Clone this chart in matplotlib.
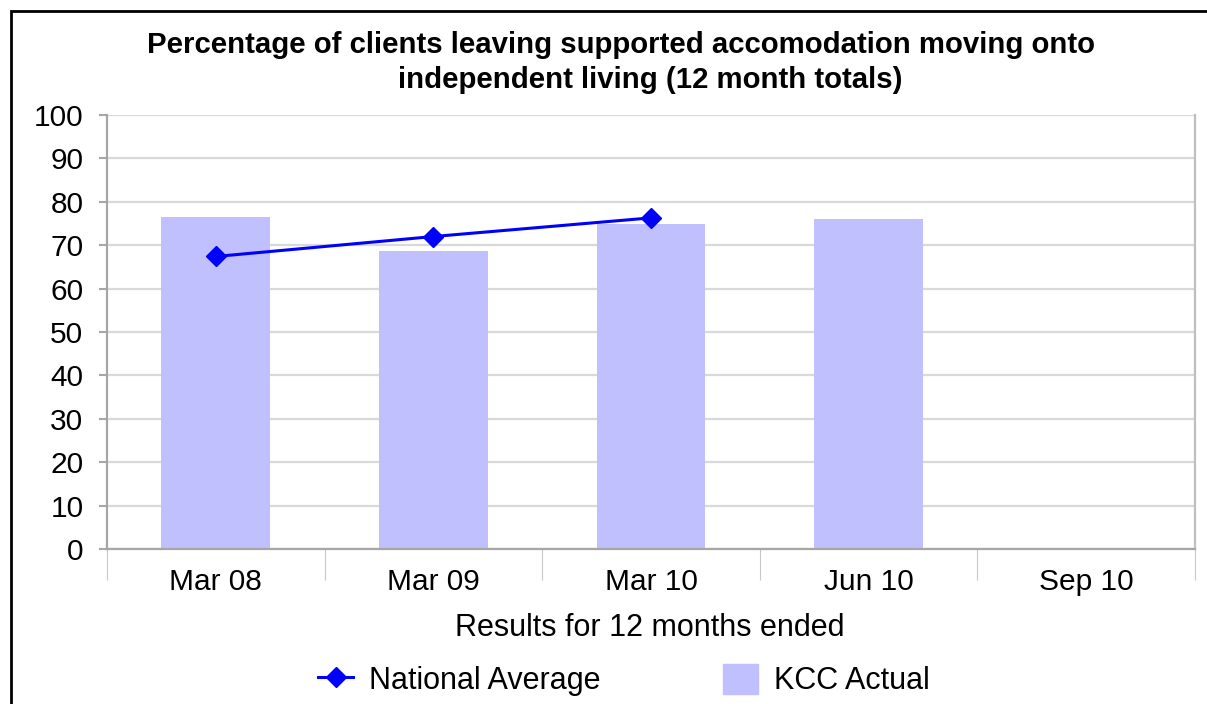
import numpy as np
import matplotlib.pyplot as plt
from matplotlib.patches import Rectangle
from matplotlib.lines import Line2D

plt.rcParams['font.family'] = ['Liberation Sans', 'DejaVu Sans']

# data
periods = ["Mar 08", "Mar 09", "Mar 10", "Jun 10", "Sep 10"]
kcc_actual = [76.6, 68.7, 74.9, 76.0, 0]
national_avg = [67.4, 72.0, 76.3]
yticks = np.arange(0, 101, 10)

W, H = 1207, 704
fig = plt.figure(figsize=(W/100, H/100), dpi=100)
ax = fig.add_axes([107/W, 1-549/H, (1195-107)/W, (549-115)/H])

x = np.arange(len(periods))
ax.bar(x[:4], kcc_actual[:4], width=0.5, color='#C0C0FF', zorder=2)
ax.plot(x[:3], national_avg, color='#0000FF', lw=2.2, marker='D', ms=10.5, zorder=3)

ax.set_xlim(-0.5, 4.5)
ax.set_ylim(0, 100)
ax.set_yticks(yticks)
ax.grid(axis='y', color='#D9D9D9', lw=1.6, zorder=0)
ax.tick_params(axis='y', labelsize=21.5, length=6, width=1.5, color='#A6A6A6', pad=11)

# category separators as major ticks, labels on minor ticks
ax.set_xticks(np.arange(-0.5, 5, 1))
ax.set_xticklabels([])
ax.set_xticks(x, minor=True)
ax.set_xticklabels(periods, minor=True)
ax.tick_params(axis='x', which='major', length=22, width=0.8, color='#C8C8C8')
ax.tick_params(axis='x', which='minor', length=0, labelsize=21.5, pad=14)

for s in ['left', 'bottom']:
    ax.spines[s].set_color('#A6A6A6')
    ax.spines[s].set_linewidth(1.6)
ax.spines['right'].set_color('#BFBFBF')
ax.spines['right'].set_linewidth(1.6)
ax.spines['top'].set_visible(False)

fig.text(621/W, 1-45/H, "Percentage of clients leaving supported accomodation moving onto",
         ha='center', va='center', fontsize=21.2, fontweight='bold')
fig.text(650/W, 1-80/H, "independent living (12 month totals)",
         ha='center', va='center', fontsize=21.2, fontweight='bold')
fig.text(650/W, 1-628/H, "Results for 12 months ended", ha='center', va='center', fontsize=22)

handles = [Line2D([], [], color='#0000FF', lw=2.2, marker='D', ms=10.5),
           Rectangle((0, 0), 1, 1, color='#C0C0FF')]
fig.legend(handles, ["National Average", "KCC Actual"], loc='center',
           bbox_to_anchor=(624/W, 1-680/H), ncol=2, frameon=False, fontsize=22,
           handlelength=1.15, handleheight=1.15, handletextpad=0.52, columnspacing=4.0)

# outer frame (only left and top visible in the crop)
fig.patches.append(Rectangle((11/W, -0.1), 1.2, 1-11/H+0.1, transform=fig.transFigure,
                             fill=False, edgecolor='black', lw=2, clip_on=False))

fig.savefig("out.png", dpi=100)
